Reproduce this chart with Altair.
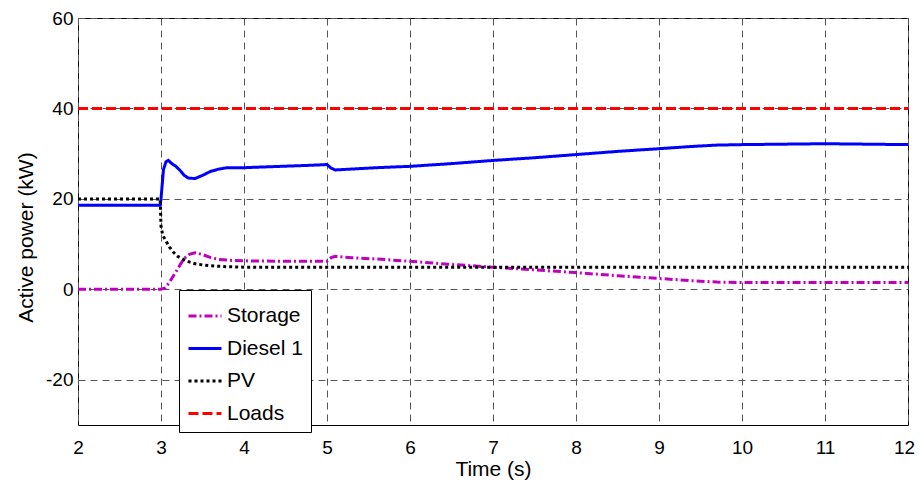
import altair as alt
import pandas as pd

series_order = ["Storage", "Diesel 1", "PV", "Loads"]
series_colors = ["#BF00BF", "#0000FF", "#000000", "#FF0000"]
series_dashes = [[8, 3, 2, 3], [1, 0], [3, 3], [10, 4]]

diesel_t = [2, 2.99, 3.0, 3.03, 3.06, 3.09, 3.13, 3.18, 3.23, 3.28, 3.33, 3.41, 3.5, 3.6,
            3.7, 3.8, 4.0, 4.3, 4.6, 4.9, 5.0, 5.05, 5.1, 5.3, 5.6, 6.0, 6.5, 7.0, 7.5,
            8.0, 8.5, 9.0, 9.4, 9.7, 10.0, 10.5, 11.0, 11.5, 12]
diesel_v = [18.6, 18.6, 20, 26.5, 28.2, 28.5, 27.8, 27.2, 26.3, 25.2, 24.6, 24.5, 25.2, 26.1,
            26.6, 26.9, 26.9, 27.1, 27.3, 27.5, 27.6, 26.8, 26.4, 26.6, 26.9, 27.2, 27.8, 28.5, 29.1,
            29.8, 30.5, 31.1, 31.6, 31.9, 32.0, 32.1, 32.2, 32.1, 32.0]

storage_t = [2, 3.0, 3.05, 3.1, 3.15, 3.2, 3.25, 3.3, 3.35, 3.41, 3.5, 3.6, 3.7, 3.85, 4.0,
             4.5, 5.0, 5.05, 5.1, 5.3, 5.6, 6.0, 6.5, 7.0, 7.5, 8.0, 8.5, 9.0, 9.4, 9.7,
             10.0, 11.0, 12]
storage_v = [0, 0, 0.3, 1.5, 3.0, 4.5, 6.0, 7.2, 7.8, 8.1, 7.7, 7.0, 6.6, 6.4, 6.3,
             6.2, 6.2, 7.0, 7.3, 7.0, 6.7, 6.2, 5.5, 4.9, 4.3, 3.7, 3.0, 2.4, 1.9, 1.6,
             1.5, 1.5, 1.5]

pv_t = [2, 2.99, 3.0, 3.02, 3.05, 3.1, 3.15, 3.2, 3.3, 3.4, 3.5, 3.6, 3.8, 4.0, 4.5, 5, 12]
pv_v = [20, 20, 14, 12, 11, 9.4, 8.2, 7.3, 6.3, 5.7, 5.4, 5.2, 5.0, 4.9, 4.9, 4.9, 4.9]

loads_t = [2, 12]
loads_v = [40, 40]

x_ticks = list(range(2, 13))
y_ticks = [-20, 0, 20, 40, 60]

rows = []
for name, ts, vs in [("Storage", storage_t, storage_v), ("Diesel 1", diesel_t, diesel_v),
                     ("PV", pv_t, pv_v), ("Loads", loads_t, loads_v)]:
    for i, (t, v) in enumerate(zip(ts, vs)):
        rows.append({"series": name, "t": t, "v": v, "i": i})
df = pd.DataFrame(rows)

FONT = "Liberation Sans, Arial, sans-serif"

chart = alt.Chart(df).mark_line(strokeWidth=3).encode(
    x=alt.X("t:Q", scale=alt.Scale(domain=[2, 12], nice=False),
            axis=alt.Axis(values=x_ticks, title="Time (s)", titleY=33, labelFlush=False,
                          labelExpr="'' + datum.value",
                          labelOffset={"condition": {"test": "datum.value == 12", "value": -4},
                                       "value": 0})),
    y=alt.Y("v:Q", scale=alt.Scale(domain=[-30, 60], nice=False),
            axis=alt.Axis(values=y_ticks, title="Active power (kW)", titleX=-42, titleY=219,
                          labelFlush=False, labelExpr="'' + datum.value")),
    color=alt.Color("series:N", scale=alt.Scale(domain=series_order, range=series_colors),
                    legend=alt.Legend(title=None)),
    strokeDash=alt.StrokeDash("series:N", scale=alt.Scale(domain=series_order, range=series_dashes),
                              legend=alt.Legend(title=None)),
    order="i:Q",
).properties(
    width=830, height=407,
    autosize=alt.AutoSizeParams(type="none"),
    padding={"left": 70, "top": 10, "right": 7, "bottom": 60},
).configure_view(
    stroke="black", strokeWidth=1
).configure_axis(
    grid=True, gridColor="#555555", gridDash=[7, 5], gridWidth=1,
    domain=False, ticks=False,
    labelFont=FONT, labelFontSize=19, labelColor="black",
    titleFont=FONT, titleFontSize=21, titleColor="black", titleFontWeight="normal",
).configure_axisX(
    labelPadding=13
).configure_axisY(
    labelPadding=5
).configure_legend(
    orient="none", legendX=101, legendY=272,
    strokeColor="black", fillColor="white", padding=8,
    symbolType="stroke", symbolSize=1089, symbolStrokeWidth=3,
    labelFont=FONT, labelFontSize=21, labelColor="black",
    rowPadding=4.5, labelOffset=4, cornerRadius=0,
)

chart.save("out.html", embed_options={"renderer": "svg", "actions": False})
